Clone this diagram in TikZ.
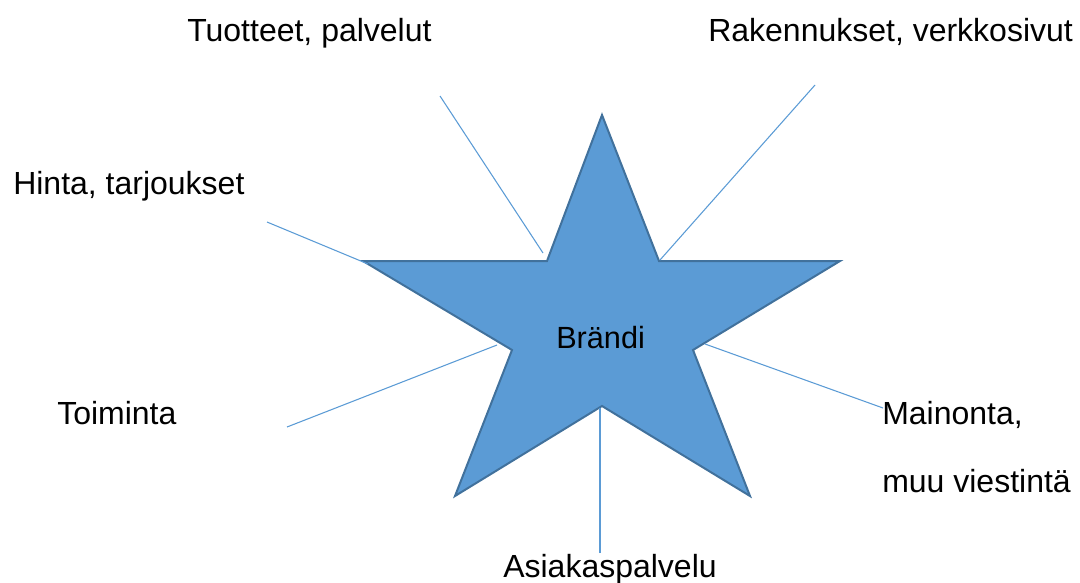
\documentclass[tikz,border=0pt]{standalone}
\usepackage{fontspec}
\setmainfont{Liberation Sans}
\usepackage{xcolor}
\usepackage{tikz}
\definecolor{starfill}{RGB}{91, 155, 213}
\definecolor{starborder}{RGB}{65, 113, 156}
\definecolor{spoke}{RGB}{91, 155, 213}

\begin{document}
\begin{tikzpicture}[x=0.75pt, y=-0.75pt,
    label/.style={anchor=base west, inner sep=0pt, font=\fontsize{24}{29}\selectfont},
    spokeline/.style={spoke, line width=0.8pt}]
    \useasboundingbox (0,0) rectangle (1080,582);

    % Star corners
    \coordinate (top) at (602,115);
    \coordinate (ir)  at (659,261);
    \coordinate (r)   at (840,261);
    \coordinate (ibr) at (693,350);
    \coordinate (br)  at (750,496);
    \coordinate (ib)  at (602,406);
    \coordinate (bl)  at (455,496);
    \coordinate (ibl) at (512,350);
    \coordinate (l)   at (363,261);
    \coordinate (il)  at (547,261);
    \draw[line width=1.5pt, starborder, fill=starfill, line join=miter]
        (top) -- (ir) -- (r) -- (ibr) -- (br) -- (ib) -- (bl) -- (ibl) -- (l) -- (il) -- cycle;
    \node[label, font=\fontsize{23}{28}\selectfont] (brandi) at (556,348) {Brändi};

    % Labels round the star
    \node[label] (tuotteet)  at (187,41)  {Tuotteet, palvelut};
    \node[label] (rakennus)  at (708,41)  {Rakennukset, verkkosivut};
    \node[label] (hinta)     at (13,194)  {Hinta, tarjoukset};
    \node[label] (toiminta)  at (57,424)  {Toiminta};
    \node[label] (mainonta)  at (882,424) {Mainonta,};
    \node[label] (viestinta) at (882,492) {muu viestintä};
    \node[label] (asiakas)   at (503,577) {Asiakaspalvelu};

    % Spoke ends
    \coordinate (tuoA) at (440,96);  \coordinate (tuoB) at (543,253);
    \coordinate (rakA) at (815,85);  \coordinate (rakB) at (660,260);
    \coordinate (hinA) at (267,222); \coordinate (hinB) at (368,264);
    \coordinate (toiA) at (287,427); \coordinate (toiB) at (497,345);
    \coordinate (maiA) at (883,408); \coordinate (maiB) at (705,344);
    \coordinate (asiA) at (600,553); \coordinate (asiB) at (600,408);

    % Spokes
    \draw[spokeline] (tuoA) -- (tuoB);
    \draw[spokeline] (rakA) -- (rakB);
    \draw[spokeline] (hinA) -- (hinB);
    \draw[spokeline] (toiA) -- (toiB);
    \draw[spokeline] (maiA) -- (maiB);
    \draw[spokeline] (asiA) -- (asiB);
\end{tikzpicture}
\end{document}
